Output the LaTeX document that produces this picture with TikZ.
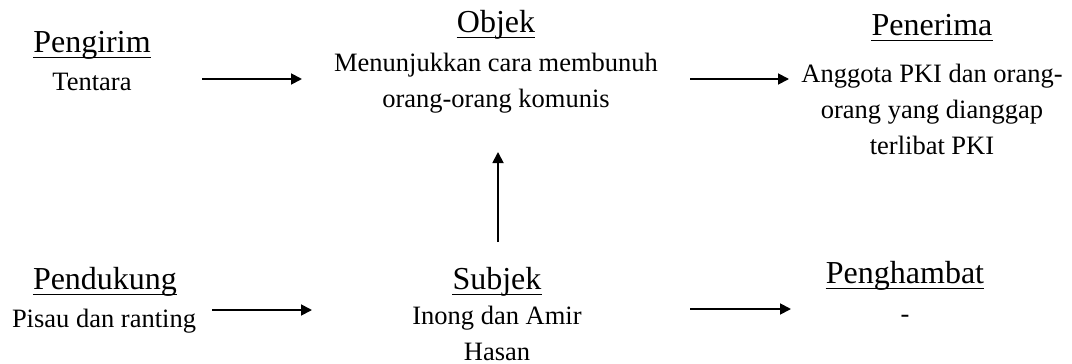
\documentclass[tikz,border=0pt]{standalone}
\usepackage{fontspec}
\setmainfont{Liberation Serif}
\usetikzlibrary{arrows.meta}
\tikzset{
  head/.style={anchor=base, inner sep=0pt, font=\fontsize{32}{36}\selectfont},
  body/.style={anchor=base, inner sep=0pt, align=center, font=\fontsize{26.5}{36}\selectfont},
  ul/.style={line width=1.6pt},
  conn/.style={line width=1.8pt, -{Triangle[length=11pt,width=11pt]}}
}
\begin{document}
\begin{tikzpicture}[x=1pt,y=-1pt]
\useasboundingbox (0,0) rectangle (1072,364);
% headings
\node[head] (h1) at (92,52) {Pengirim};
\node[head] (h2) at (496,32) {Objek};
\node[head] (h3) at (932,35) {Penerima};
\node[head] (h4) at (105,289) {Pendukung};
\node[head] (h5) at (497,289) {Subjek};
\node[head] (h6) at (905,283) {Penghambat};
\foreach \n in {h1,h2,h3,h4,h5,h6}
  \draw[ul] ([yshift=-5.5pt]\n.base west) -- ([yshift=-5.5pt]\n.base east);
% bodies (base anchor = baseline of the last line)
\node[body] (b1) at (92,90) {Tentara};
\node[body] (b2) at (496,107) {Menunjukkan cara membunuh\\orang-orang komunis};
\node[body] (b3) at (932,154) {Anggota PKI dan orang-\\orang yang dianggap\\terlibat PKI};
\node[body] (b4) at (104,327) {Pisau dan ranting};
\node[body] (b5) at (497,360) {Inong dan Amir\\Hasan};
\node[body] (b6) at (905,322) {-};
% arrow ends
\coordinate (a1s) at (202,79); \coordinate (a1e) at (302,79);
\coordinate (a2s) at (690,79); \coordinate (a2e) at (789,79);
\coordinate (a3s) at (212,310); \coordinate (a3e) at (312,310);
\coordinate (a4s) at (690,309); \coordinate (a4e) at (791,309);
\coordinate (a5s) at (498,242); \coordinate (a5e) at (498,152);
\draw[conn] (a1s) -- (a1e);
\draw[conn] (a2s) -- (a2e);
\draw[conn] (a3s) -- (a3e);
\draw[conn] (a4s) -- (a4e);
\draw[conn] (a5s) -- (a5e);
\end{tikzpicture}
\end{document}
